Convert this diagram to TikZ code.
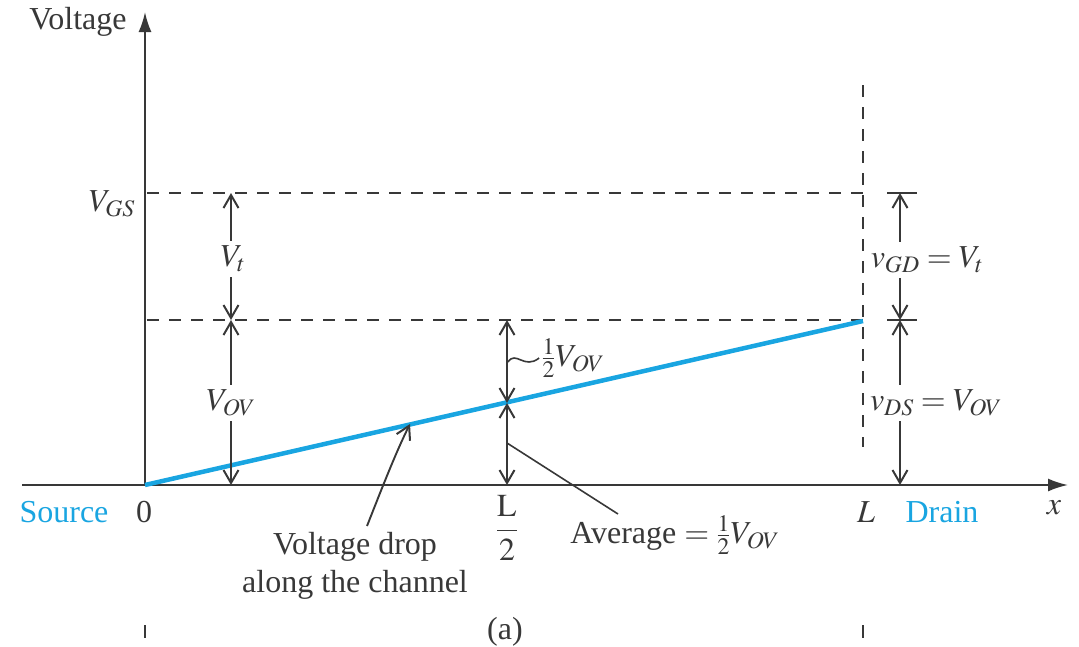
\documentclass[tikz,border=0pt]{standalone}
\usepackage{mathptmx}
\usepackage{fontspec}
\setmainfont{Liberation Serif}
\usetikzlibrary{arrows.meta}
\definecolor{ln}{HTML}{383838}
\definecolor{chan}{RGB}{25,165,225}
\begin{document}
\begin{tikzpicture}[x=1pt,y=-1pt,
  every node/.style={font=\fontsize{32}{38}\selectfont, text=ln, inner sep=2pt},
  axis/.style={draw=ln, line width=2pt, -{Latex[length=20pt,width=13pt]}},
  guide/.style={draw=ln, line width=1.6pt, dash pattern=on 12pt off 10pt},
  barb/.tip={Straight Barb[length=13pt,width=15pt,line width=2pt]},
  dimarrow/.style={draw=ln, line width=1.9pt, -barb},
  dimboth/.style={draw=ln, line width=1.9pt, barb-barb},
  dimlabel/.style={inner xsep=2pt, inner ysep=5pt},
  leader/.style={draw=ln, line width=1.6pt},
  channel/.style={draw=chan, line width=4.5pt},
  bluetext/.style={text=chan}]
\useasboundingbox (0,0) rectangle (1079,646);

% key points
\coordinate (O) at (145,485);
\coordinate (ytip) at (145,12);
\coordinate (xl) at (22,485);
\coordinate (xtip) at (1068,485);
\coordinate (gs0) at (147,193);
\coordinate (gsR) at (863,193);
\coordinate (ov0) at (147,320);
\coordinate (ovR) at (863,320);
\coordinate (dtop) at (863,85);
\coordinate (dbot) at (863,447);
\coordinate (tL1) at (145,625);
\coordinate (tL2) at (145,638);
\coordinate (tR1) at (863,625);
\coordinate (tR2) at (863,638);
\coordinate (chEnd) at (863,321);

% axes
\draw[axis] (O) -- (ytip);
\draw[axis] (xl) -- (xtip);

% dashed guides
\draw[guide] (gs0) -- (gsR);
\draw[guide] (ov0) -- (ovR);
\draw[guide] (dtop) -- (dbot);
\draw[ln, line width=1.6pt] (tL1) -- (tL2);
\draw[ln, line width=1.6pt] (tR1) -- (tR2);

% channel voltage
\draw[channel] (O) -- (chEnd);

% labels on axes
\node (vlab) at (78,22) {Voltage};
\node (vgs) at (112,204) {$V_{GS}$};
\node[bluetext] (src) at (64,512) {Source};
\node (zero) at (144,512) {0};
\node (lhalf) at (507,528) {$\displaystyle\frac{\mathrm{L}}{2}$};
\node (lL) at (866,512) {$L$};
\node[bluetext] (drain) at (942,512) {Drain};
\node (xlab) at (1054,508) {$x$};
\node (cap) at (505,632) {(a)};

% left dimension arrows
\coordinate (aGS) at (231,193);
\coordinate (aOV) at (231,320);
\coordinate (aB) at (231,485);
\node[dimlabel] (vt) at (233,259) {$V_t$};
\node[dimlabel] (vov) at (231,403) {$V_{OV}$};
\draw[dimarrow] (aGS |- vt.north) -- (aGS);
\draw[dimarrow] (aGS |- vt.south) -- (aOV);
\draw[dimarrow] (vov.north) -- (aOV);
\draw[dimarrow] (vov.south) -- (aB);

% middle dimension arrows
\coordinate (mTop) at (507,320);
\coordinate (mMid) at (507,403);
\coordinate (mBot) at (507,485);
\draw[dimboth] (mTop) -- (mMid);
\draw[dimboth] (mMid) -- (mBot);
\node (half) at (573,358) {$\frac{1}{2}V_{OV}$};
\coordinate (mLead) at (508,362);
\draw[leader] (mLead) .. controls (516,350) and (524,370) .. (half.west);

% right dimension arrows
\coordinate (rGS) at (900,193);
\coordinate (rOV) at (900,320);
\coordinate (rB) at (900,485);
\draw[ln, line width=1.9pt] (887,193) -- (917,193);
\draw[ln, line width=1.9pt] (887,320) -- (917,320);
\node[dimlabel] (vgd) at (927,260) {$v_{GD} = V_t$};
\node[dimlabel] (vds) at (936,403) {$v_{DS} = V_{OV}$};
\draw[dimarrow] (rGS |- vgd.north) -- (rGS);
\draw[dimarrow] (rGS |- vgd.south) -- (rOV);
\draw[dimarrow] (rGS |- vds.north) -- (rOV);
\draw[dimarrow] (rGS |- vds.south) -- (rB);

% voltage drop annotation
\node[align=center] (vdrop) at (355,566) {Voltage drop\\along the channel};
\coordinate (dropTail) at (367,526);
\coordinate (dropPt) at (410,424);
\draw[dimarrow] (dropTail) .. controls (382,488) and (396,452) .. (dropPt);

% average annotation
\node (avg) at (675,535) {Average $=\frac{1}{2}V_{OV}$};
\coordinate (avgPt) at (507,443);
\coordinate (avgEnd) at (618,514);
\draw[leader] (avgPt) -- (avgEnd);
\end{tikzpicture}
\end{document}
